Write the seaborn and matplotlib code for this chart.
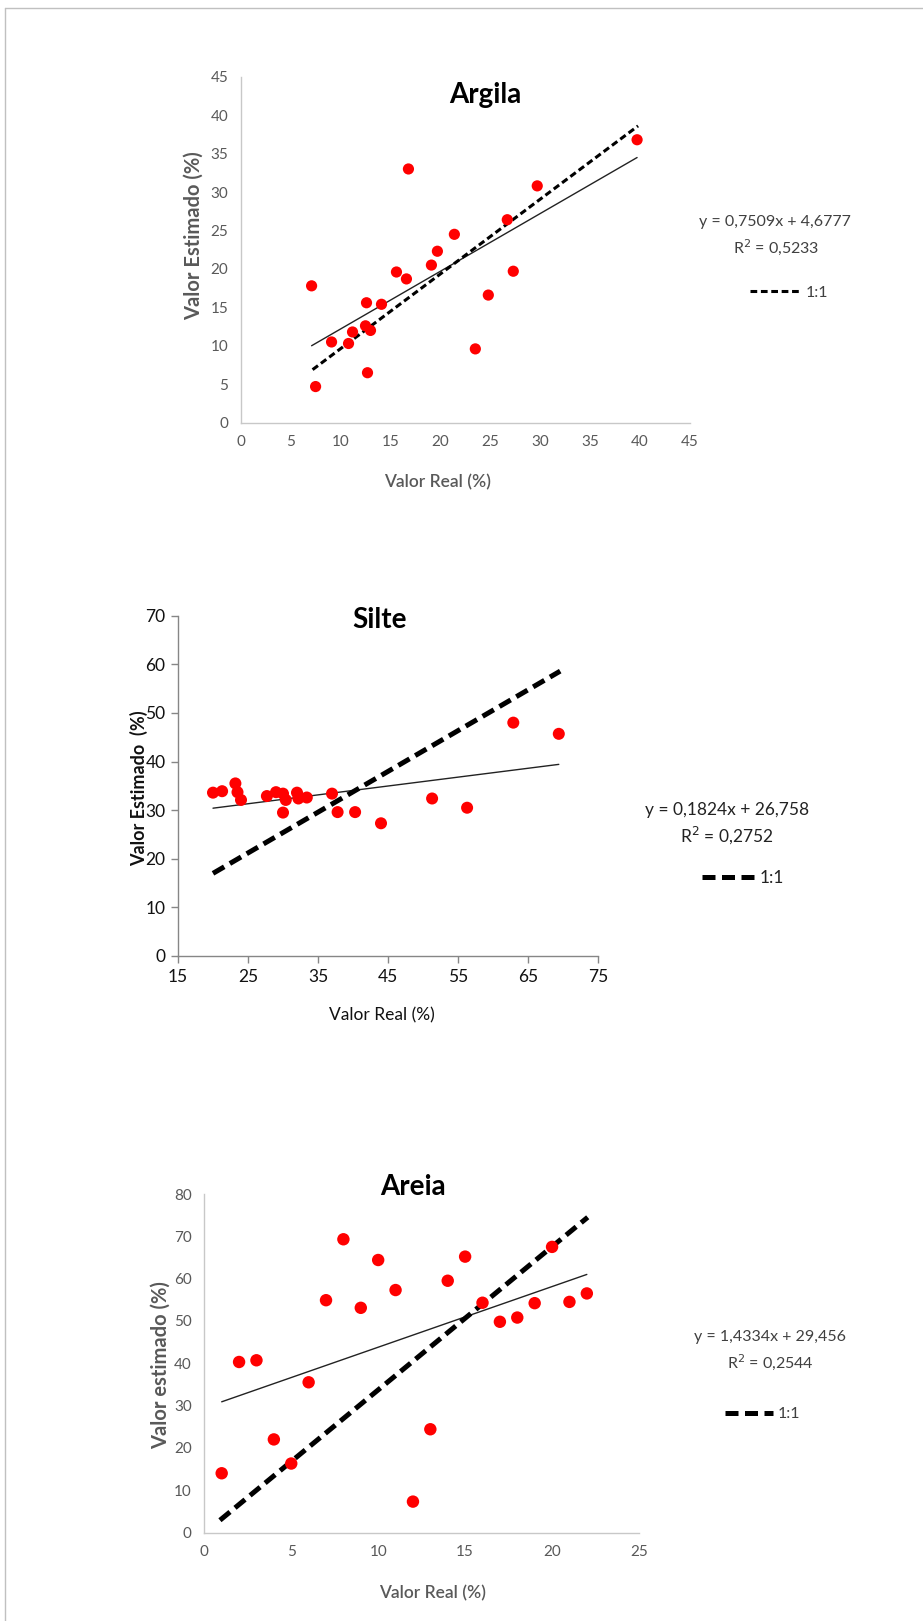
import matplotlib
matplotlib.use("Agg")
import matplotlib.pyplot as plt
import seaborn as sns
import pandas as pd
from matplotlib.lines import Line2D

sns.set_theme(style="white")
plt.rcParams['font.family'] = ['Lato', 'DejaVu Sans']

# Argila
argila_real = [7.1, 7.5, 9.1, 10.8, 11.2, 12.5, 12.6, 13.0, 12.7, 14.1, 15.6, 16.6, 16.8,
               19.1, 19.7, 21.4, 23.5, 24.8, 26.7, 27.3, 29.7, 39.7]
argila_est = [17.8, 4.7, 10.5, 10.3, 11.8, 12.6, 15.6, 12.0, 6.5, 15.4, 19.6, 18.7, 33.0,
              20.5, 22.3, 24.5, 9.6, 16.6, 26.4, 19.7, 30.8, 36.8]
argila_coef = (0.7509, 4.6777)
argila_11_x = [7.2, 39.8]
argila_11_y = [6.9, 38.6]

# Silte
silte_real = [20.0, 21.3, 23.2, 23.5, 24.0, 27.7, 29.0, 30.0, 30.0, 30.4, 32.0, 32.2, 33.4,
              37.0, 37.8, 40.3, 44.0, 51.3, 56.3, 62.9, 69.4]
silte_est = [33.6, 33.9, 35.5, 33.7, 32.1, 32.9, 33.7, 33.4, 29.5, 32.1, 33.6, 32.4, 32.6,
             33.4, 29.6, 29.6, 27.3, 32.4, 30.5, 48.0, 45.7]
silte_coef = (0.1824, 26.758)
silte_11_x = [20.0, 69.6]
silte_11_y = [17.0, 58.6]

# Areia
areia_real = [1, 2, 3, 4, 5, 6, 7, 8, 9, 10, 11, 12, 13, 14, 15, 16, 17, 18, 19, 20, 21, 22]
areia_est = [14.0, 40.3, 40.7, 22.0, 16.3, 35.5, 54.9, 69.3, 53.1, 64.4, 57.3, 7.3, 24.4,
             59.5, 65.2, 54.3, 49.8, 50.8, 54.2, 67.5, 54.5, 56.5]
areia_coef = (1.4334, 29.456)
areia_11_x = [0.9, 22.05]
areia_11_y = [2.9, 74.5]

W, H = 923, 1621
fig = plt.figure(figsize=(W / 100, H / 100), dpi=100)
fig.patch.set_facecolor('white')


def px(x, y):
    return x / W, 1 - y / H


def painel(rect, real, est, coef, x11, y11, cfg):
    ax = fig.add_axes(rect)
    df = pd.DataFrame({'real': real, 'est': est})
    sns.scatterplot(data=df, x='real', y='est', ax=ax, color='#ff0000', s=cfg['ms'],
                    edgecolor='none', zorder=3)
    a, b = coef
    xs = [min(real), max(real)]
    trend = pd.DataFrame({'x': xs, 'y': [a * v + b for v in xs]})
    sns.lineplot(data=trend, x='x', y='y', ax=ax, color='#222222', lw=1.0, zorder=2)
    um = pd.DataFrame({'x': x11, 'y': y11})
    sns.lineplot(data=um, x='x', y='y', ax=ax, color='black', lw=cfg['dlw'],
                 dashes=False, zorder=2, linestyle=(0, cfg['dash']))
    ax.set_xlim(cfg['xlim'])
    ax.set_ylim(cfg['ylim'])
    ax.set_xticks(cfg['xticks'])
    ax.set_yticks(cfg['yticks'])
    for s in ['top', 'right']:
        ax.spines[s].set_visible(False)
    for s in ['left', 'bottom']:
        ax.spines[s].set_color(cfg['spine'])
        ax.spines[s].set_linewidth(1.0)
    ax.tick_params(axis='both', labelsize=cfg['tfs'], colors=cfg['tcol'],
                   length=cfg['tlen'], width=1, pad=cfg['tpad'], direction='out')
    ax.tick_params(axis='both', color=cfg['spine'])
    if cfg['tlen'] > 0:
        ax.tick_params(left=True, bottom=True)
    ax.set_xlabel('Valor Real (%)', fontsize=cfg['xfs'], color=cfg['lcol'],
                  fontweight=cfg['xfw'])
    ax.set_ylabel(cfg['ylabel'], fontsize=cfg['yfs'], color=cfg['lcol'], fontweight='bold')
    ax.xaxis.set_label_coords(*cfg['xlc'])
    ax.yaxis.set_label_coords(*cfg['ylc'])
    ax.text(cfg['tpos'][0], cfg['tpos'][1], cfg['title'], transform=ax.transAxes,
            ha='center', va='center', fontsize=cfg['titfs'], fontweight='bold', color='black')
    h = Line2D([0], [0], color='black', lw=cfg['dlw'], linestyle=(0, cfg['dash']))
    ax.legend([h], ['1:1'], frameon=False, loc='center left', bbox_to_anchor=cfg['leg'],
              borderaxespad=0, borderpad=0, handlelength=cfg['hl'], handletextpad=0.3,
              prop={'size': cfg['afs']}, labelcolor=cfg['acol'])
    eq = 'y = %sx + %s' % (('%.4f' % a).replace('.', ','), str(b).replace('.', ','))
    fig.text(*px(*cfg['eqpos']), eq, ha='center', va='center', fontsize=cfg['afs'],
             color=cfg['acol'])
    fig.text(*px(*cfg['r2pos']), 'R$^2$ = ' + cfg['r2'], ha='center', va='center',
             fontsize=cfg['afs'], color=cfg['acol'])
    return ax


painel([240.7 / W, 1 - 422.7 / H, 449.3 / W, 346 / H], argila_real, argila_est, argila_coef,
       argila_11_x, argila_11_y,
       dict(ms=65, dlw=2.2, dash=(2.2, 1.2), xlim=(0, 45), ylim=(0, 45),
            xticks=range(0, 46, 5), yticks=range(0, 46, 5), spine='#c8c8c8', tfs=11,
            tcol='#595959', tlen=0, tpad=9, xfs=12.5, xfw='semibold', lcol='#595959',
            ylabel='Valor Estimado (%)', yfs=14.5, xlc=(0.437, -0.15), ylc=(-0.082, 0.54),
            tpos=(0.544, 0.947), title='Argila', titfs=20, leg=(1.134, 0.375), hl=3.2,
            afs=11.5, acol='#404040', eqpos=(775, 222), r2pos=(776, 247), r2='0,5233'))

painel([178 / W, 1 - 956 / H, 420 / W, 340.3 / H], silte_real, silte_est, silte_coef,
       silte_11_x, silte_11_y,
       dict(ms=75, dlw=3.6, dash=(2.6, 1.3), xlim=(15, 75), ylim=(0, 70),
            xticks=range(15, 76, 10), yticks=range(0, 71, 10), spine='#868686', tfs=12.5,
            tcol='#111111', tlen=5, tpad=4, xfs=12.5, xfw='normal', lcol='#111111',
            ylabel='Valor Estimado  (%)', yfs=13, xlc=(0.486, -0.15), ylc=(-0.071, 0.494),
            tpos=(0.481, 0.987), title='Silte', titfs=20, leg=(1.248, 0.229), hl=3.0,
            afs=12.5, acol='#222222', eqpos=(727, 810), r2pos=(727, 835), r2='0,2752'))

painel([204.3 / W, 1 - 1532.5 / H, 434.7 / W, 338.5 / H], areia_real, areia_est, areia_coef,
       areia_11_x, areia_11_y,
       dict(ms=80, dlw=3.6, dash=(2.6, 1.3), xlim=(0, 25), ylim=(0, 80),
            xticks=range(0, 26, 5), yticks=range(0, 81, 10), spine='#c8c8c8', tfs=11,
            tcol='#595959', tlen=0, tpad=9, xfs=12.5, xfw='semibold', lcol='#595959',
            ylabel='Valor estimado (%)', yfs=14.5, xlc=(0.524, -0.155), ylc=(-0.0766, 0.495),
            tpos=(0.480, 1.021), title='Areia', titfs=20, leg=(1.198, 0.350), hl=3.0,
            afs=11.5, acol='#404040', eqpos=(770, 1337), r2pos=(770, 1362), r2='0,2544'))

# moldura cinza (topo e esquerda)
fig.add_artist(Line2D([5 / W, 1], [1 - 8 / H, 1 - 8 / H], transform=fig.transFigure,
                      color='#c0c0c0', lw=1))
fig.add_artist(Line2D([5 / W, 5 / W], [0, 1 - 8 / H], transform=fig.transFigure,
                      color='#c0c0c0', lw=1))

fig.savefig('out.png', dpi=100, facecolor='white')
